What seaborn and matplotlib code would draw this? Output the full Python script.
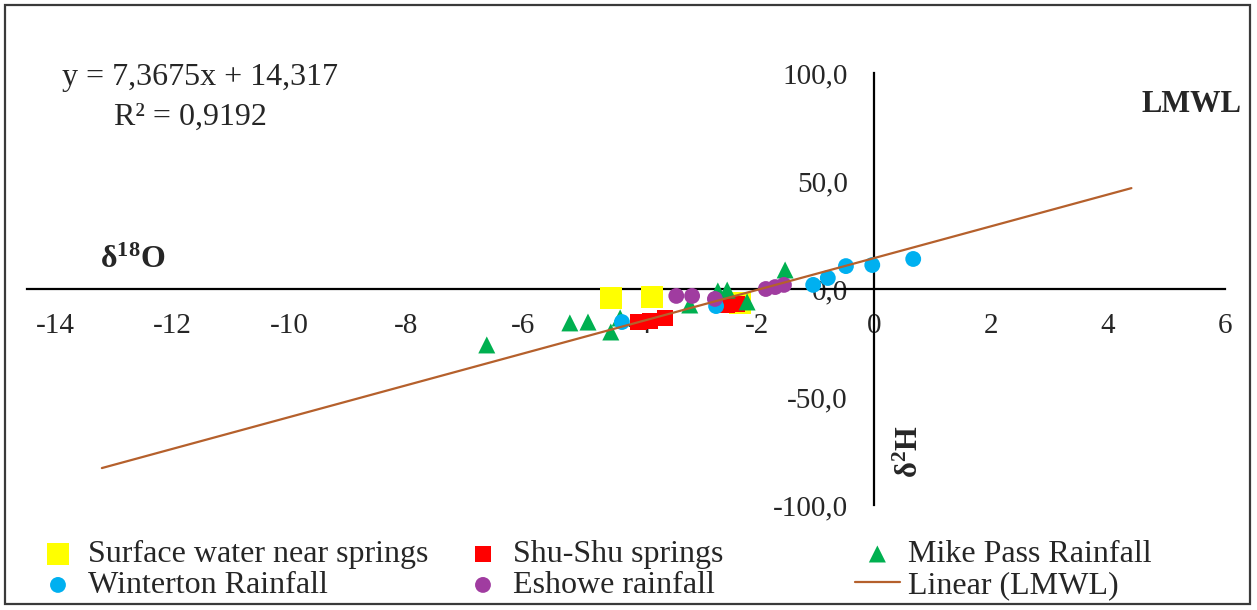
import matplotlib
matplotlib.use("Agg")
import matplotlib.pyplot as plt
import seaborn as sns
import pandas as pd
from matplotlib.patches import Rectangle

# ---------------- data ----------------
surface_x = [-4.50, -3.79, -2.29]
surface_y = [-4.2, -3.7, -6.5]

shushu_x = [-4.03, -3.83, -3.57, -2.51, -2.34]
shushu_y = [-15.3, -14.8, -13.4, -7.4, -6.9]

mike_x = [-6.62, -5.20, -4.89, -4.50, -4.34, -3.15, -2.67, -2.51, -2.17, -1.52]
mike_y = [-25.9, -15.7, -15.3, -19.9, -13.4, -7.4, -0.9, -0.5, -6.0, 8.8]

winterton_x = [-4.31, -2.70, -1.04, -0.79, -0.48, -0.03, 0.67]
winterton_y = [-15.3, -7.9, 1.9, 5.1, 10.6, 11.1, 13.9]

eshowe_x = [-3.38, -3.11, -2.72, -1.85, -1.69, -1.54]
eshowe_y = [-3.2, -3.2, -4.6, 0.0, 0.9, 1.9]

lmwl_x = [-13.2, 4.4]
lmwl_y = [-82.9, 46.7]

x_ticks = [-14, -12, -10, -8, -6, -4, -2, 0, 2, 4, 6]
y_ticks = [-100, -50, 0, 50, 100]
y_tick_labels = ["-100,0", "-50,0", "0,0", "50,0", "100,0"]

equation_text = "y = 7,3675x + 14,317"
r2_text = "R\u00b2 = 0,9192"

# ---------------- style ----------------
sns.set_style("white")
plt.rcParams["font.family"] = ["Liberation Serif", "DejaVu Serif"]
plt.rcParams["mathtext.fontset"] = "custom"
plt.rcParams["mathtext.rm"] = "Liberation Serif"
plt.rcParams["mathtext.it"] = "Liberation Serif:italic"
plt.rcParams["mathtext.bf"] = "Liberation Serif:bold"

FS_TICK = 21
FS_TXT = 23
W, H = 1257, 610
fig = plt.figure(figsize=(W / 100, H / 100), dpi=100)
fig.patch.set_facecolor("white")

def fx(px):
    return px / W

def fy(py):
    return 1 - py / H

ax = fig.add_axes([fx(27), fy(505), fx(1225) - fx(27), fy(73) - fy(505)])
ax.set_facecolor("white")

C_YELLOW = "#FFFF00"
C_RED = "#FF0000"
C_GREEN = "#00B050"
C_BLUE = "#00B0F0"
C_PURPLE = "#A03CA0"
C_LINE = "#B5602C"

sns.scatterplot(x=surface_x, y=surface_y, ax=ax, marker="s", s=250, color=C_YELLOW,
                edgecolor="none", linewidth=0, label="Surface water near springs", zorder=3)
sns.scatterplot(x=shushu_x, y=shushu_y, ax=ax, marker="s", s=140, color=C_RED,
                edgecolor="none", linewidth=0, label="Shu-Shu springs", zorder=3)
sns.scatterplot(x=mike_x, y=mike_y, ax=ax, marker="^", s=150, color=C_GREEN,
                edgecolor="none", linewidth=0, label="Mike Pass Rainfall", zorder=3)
sns.scatterplot(x=winterton_x, y=winterton_y, ax=ax, marker="o", s=130, color=C_BLUE,
                edgecolor="none", linewidth=0, label="Winterton Rainfall", zorder=3)
sns.scatterplot(x=eshowe_x, y=eshowe_y, ax=ax, marker="o", s=130, color=C_PURPLE,
                edgecolor="none", linewidth=0, label="Eshowe rainfall", zorder=3)
sns.lineplot(x=lmwl_x, y=lmwl_y, ax=ax, color=C_LINE, linewidth=1.6,
             label="Linear (LMWL)", zorder=4)

handles, labels = ax.get_legend_handles_labels()
if ax.get_legend() is not None:
    ax.get_legend().remove()

ax.set_xlim(-14.48, 6)
ax.set_ylim(-100, 100)

# axes crossing at zero
ax.spines["left"].set_position(("data", 0))
ax.spines["bottom"].set_position(("data", 0))
ax.spines["top"].set_visible(False)
ax.spines["right"].set_visible(False)
for s in ("left", "bottom"):
    ax.spines[s].set_color("black")
    ax.spines[s].set_linewidth(1.6)
    ax.spines[s].set_zorder(2)

ax.set_xticks(x_ticks)
ax.set_xticklabels([str(v) for v in x_ticks])
ax.set_yticks(y_ticks)
ax.set_yticklabels(y_tick_labels)
ax.tick_params(axis="x", length=0, pad=17, labelsize=FS_TICK)
ax.tick_params(axis="y", length=0, pad=19, labelsize=FS_TICK)
ax.set_xlabel("")
ax.set_ylabel("")
ax.grid(False)

# annotations
fig.text(fx(200), fy(78), equation_text, ha="center", va="center", fontsize=FS_TXT)
fig.text(fx(190), fy(117), r2_text, ha="center", va="center", fontsize=FS_TXT)
fig.text(fx(1191), fy(105), "LMWL", ha="center", va="center", fontsize=22,
         fontweight="bold")
fig.text(fx(133), fy(260), r"$\mathbf{\delta^{18}O}$", ha="center", va="center",
         fontsize=23)
fig.text(fx(910), fy(452), r"$\mathbf{\delta^{2}H}$", ha="center", va="center",
         fontsize=22, rotation=90)

# legend: three columns as separate legends
order = [[0, 3], [1, 4], [2, 5]]
col_x = [42, 467, 855]
hlen = [1.0, 1.0, 1.4]
hpad = [0.45, 0.45, 0.25]
for idx, cx, hl, hp in zip(order, col_x, hlen, hpad):
    fig.legend([handles[i] for i in idx], [labels[i] for i in idx],
               loc="upper left", bbox_to_anchor=(fx(cx), fy(540)),
               frameon=False, fontsize=FS_TXT, handlelength=hl,
               handletextpad=hp, labelspacing=0.05, borderpad=0,
               borderaxespad=0, markerscale=1.0)

# outer border
fig.patches.append(Rectangle((fx(5), fy(604)), fx(1250) - fx(5), fy(5) - fy(604),
                             transform=fig.transFigure, fill=False,
                             edgecolor="#3a3a3a", linewidth=1.6, zorder=10))

fig.savefig("out.png", dpi=100, facecolor="white")
